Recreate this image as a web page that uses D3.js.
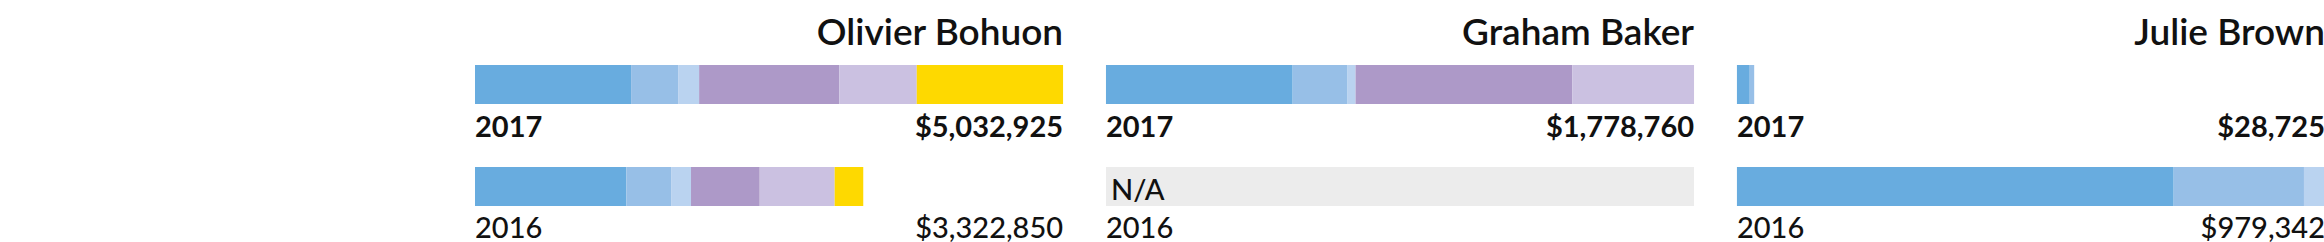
<!DOCTYPE html>
<html>
<head>
<meta charset="utf-8">
<script src="https://cdn.jsdelivr.net/npm/d3@7"></script>
<style>
  body { margin: 0; background: #fff; }
  svg { display: block; }
  text { font-family: Lato, "Open Sans", sans-serif; fill: #111; }
</style>
</head>
<body>
<div id="chart"></div>
<script>
const people = ['Olivier Bohuon', 'Graham Baker', 'Julie Brown'];
const segmentColors = ['#68acdf', '#97bfe7', '#bad3f0', '#ad99c8', '#cbc1e1', '#fed900'];

// spend components per person, in the order of segmentColors (null = no data)
const values2017 = [
  [1335900, 402500, 179800, 1198900, 663700, 1252125],
  [564700, 166100, 24200, 655300, 368460, 0],
  [21300, 7425, 0, 0, 0, 0]
];
const values2016 = [
  [1295000, 383400, 170400, 587900, 641600, 244550],
  null,
  [727300, 217000, 35042, 0, 0, 0]
];

const width = 2324;
const height = 242;
const margin = { left: 475, right: -1 };

const svg = d3.select('#chart')
  .append('svg')
  .attr('width', width)
  .attr('height', height);

const panel = d3.scaleBand()
  .domain(people)
  .range([margin.left, width - margin.right])
  .paddingInner(0.068);

const bw = panel.bandwidth();
const fmt = d3.format('$,');

const rows = [
  { year: '2017', data: values2017, y: 65, labelY: 137, weight: 700 },
  { year: '2016', data: values2016, y: 167, labelY: 238, weight: 500 }
];

people.forEach((name, i) => {
  const g = svg.append('g').attr('transform', `translate(${panel(name)},0)`);

  const totals = rows.map(r => r.data[i] ? d3.sum(r.data[i]) : 0);
  const x = d3.scaleLinear()
    .domain([0, d3.max(totals)])
    .range([0, bw]);

  g.append('text')
    .attr('x', bw)
    .attr('y', 45)
    .attr('text-anchor', 'end')
    .attr('font-size', '37px')
    .attr('font-weight', 600)
    .text(name);

  rows.forEach((r, ri) => {
    const vals = r.data[i];
    if (vals) {
      const stacked = vals.map((v, k) => ({ v, k, x0: d3.sum(vals.slice(0, k)) }));
      g.append('g')
        .selectAll('rect')
        .data(stacked.filter(d => d.v > 0))
        .join('rect')
          .attr('x', d => x(d.x0))
          .attr('y', r.y)
          .attr('width', d => x(d.x0 + d.v) - x(d.x0))
          .attr('height', 39)
          .attr('fill', d => segmentColors[d.k]);

      g.append('text')
        .attr('x', bw)
        .attr('y', r.labelY)
        .attr('text-anchor', 'end')
        .attr('font-size', '29px')
        .attr('font-weight', r.weight)
        .text(fmt(totals[ri]));
    } else {
      g.append('rect')
        .attr('x', 0)
        .attr('y', r.y)
        .attr('width', bw)
        .attr('height', 39)
        .attr('fill', '#ececec');
      g.append('text')
        .attr('x', 5)
        .attr('y', r.y + 33)
        .attr('font-size', '29px')
        .attr('font-weight', 500)
        .text('N/A');
    }

    g.append('text')
      .attr('x', 0)
      .attr('y', r.labelY)
      .attr('font-size', '29px')
      .attr('font-weight', r.weight)
      .text(r.year);
  });
});
</script>
</body>
</html>
